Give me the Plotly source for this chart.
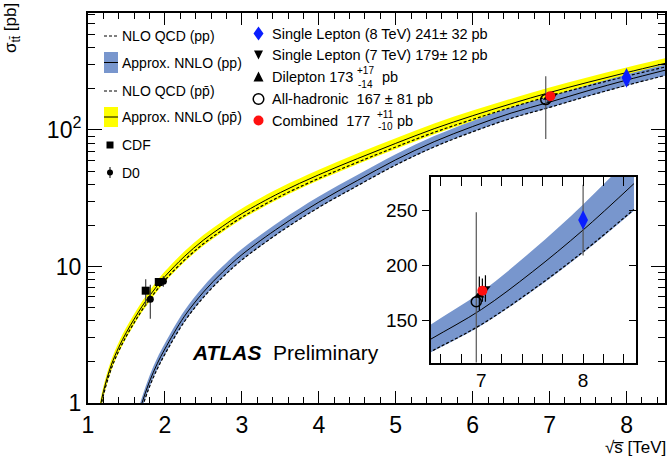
import plotly.graph_objects as go

# ---------------- theory curves ----------------
sqrt_s_ppbar = [1.1, 1.15, 1.2, 1.3, 1.4, 1.5, 1.6, 1.7, 1.8, 1.9, 2.0, 2.25, 2.5, 2.75,
                3.0, 3.5, 4.0, 4.5, 5.0, 5.5, 6.0, 6.5, 7.0, 7.5, 8.0, 8.5]
nnlo_ppbar = [0.555, 0.88, 1.21, 1.88, 2.56, 3.30, 4.12, 5.07, 6.10, 7.23, 8.45, 11.8, 15.6, 19.7,
              24.4, 34.8, 47.0, 61.6, 79.8, 102.2, 127.2, 155.6, 188.2, 223.6, 263.4, 307.6]
sqrt_s_pp = [1.5, 1.6, 1.7, 1.8, 1.9, 2.0, 2.25, 2.5, 2.75, 3.0, 3.5, 4.0, 4.5, 5.0, 5.5,
             6.0, 6.5, 7.0, 7.5, 8.0, 8.5]
nnlo_pp = [0.355, 0.627, 0.993, 1.44, 1.94, 2.49, 4.29, 6.49, 9.11, 12.2, 19.6, 29.6, 42.6, 60.5, 82.1,
           106, 133, 160, 194, 232, 274]
# relative band widths / NLO offsets
ppbar_band_up, ppbar_band_down, ppbar_nlo_ratio = 0.09, 0.09, 0.94
pp_band_up, pp_band_down, pp_nlo_ratio = 0.10, 0.09, 0.915

# ---------------- Tevatron data ----------------
cdf_x = [1.75, 1.92]
cdf_y = [6.65, 7.7]
cdf_err_plus = [1.4, 0.5]
cdf_err_minus = [1.5, 0.5]
d0_x = [1.81, 1.98]
d0_y = [5.75, 7.8]
d0_err = [1.6, 0.7]

# ---------------- ATLAS measurements ----------------
atlas_names = ["All-hadronic", "Dilepton", "Single Lepton (7 TeV)", "Combined", "Single Lepton (8 TeV)"]
atlas_x = [6.95, 6.98, 7.04, 7.01, 8.0]
atlas_y = [167, 173, 179, 177, 241]
atlas_err_plus = [81, 17, 12, 11, 32]
atlas_err_minus = [81, 14, 12, 10, 32]

x_ticks = [1, 2, 3, 4, 5, 6, 7, 8]
y_ticks = [1, 10, 100]
y_ticktext = ["1", "10", "10<sup>2</sup>"]
inset_x_ticks = [7, 8]
inset_y_ticks = [150, 200, 250]

YELLOW = "#ffff00"
BLUE = "#7896cd"
FONT = "Liberation Sans, Arial, Helvetica, sans-serif"

fig = go.Figure()

def add_theory(xa, ya, xs, central, up, down, nlo_ratio, color):
    lower = [v * (1 - down) for v in central]
    upper = [v * (1 + up) for v in central]
    nlo = [v * nlo_ratio for v in central]
    fig.add_trace(go.Scatter(x=xs, y=lower, mode="lines", line=dict(width=0, shape="spline", color=color),
                             xaxis=xa, yaxis=ya, showlegend=False, hoverinfo="skip"))
    fig.add_trace(go.Scatter(x=xs, y=upper, mode="lines", line=dict(width=0, shape="spline", color=color),
                             fill="tonexty", fillcolor=color, xaxis=xa, yaxis=ya, showlegend=False,
                             hoverinfo="skip"))
    return nlo

def add_lines(xa, ya, xs, central, nlo):
    fig.add_trace(go.Scatter(x=xs, y=central, mode="lines", line=dict(width=1, color="black", shape="spline"),
                             xaxis=xa, yaxis=ya, showlegend=False))
    fig.add_trace(go.Scatter(x=xs, y=nlo, mode="lines",
                             line=dict(width=1.2, color="black", dash="3px,2px", shape="spline"),
                             xaxis=xa, yaxis=ya, showlegend=False))

# main panel bands
nlo_ppbar = add_theory("x", "y", sqrt_s_ppbar, nnlo_ppbar, ppbar_band_up, ppbar_band_down, ppbar_nlo_ratio, YELLOW)
nlo_pp = add_theory("x", "y", sqrt_s_pp, nnlo_pp, pp_band_up, pp_band_down, pp_nlo_ratio, BLUE)
add_lines("x", "y", sqrt_s_ppbar, nnlo_ppbar, nlo_ppbar)
add_lines("x", "y", sqrt_s_pp, nnlo_pp, nlo_pp)

# inset band (pp only)
nlo_pp_in = add_theory("x2", "y2", sqrt_s_pp, nnlo_pp, pp_band_up, pp_band_down, pp_nlo_ratio, BLUE)
add_lines("x2", "y2", sqrt_s_pp, nnlo_pp, nlo_pp_in)

# Tevatron points
fig.add_trace(go.Scatter(x=d0_x, y=d0_y, mode="markers", marker=dict(symbol="circle", size=7, color="black"),
                         error_y=dict(type="data", array=d0_err, width=0, thickness=1.2, color="#444"),
                         xaxis="x", yaxis="y", name="D0", showlegend=False))
fig.add_trace(go.Scatter(x=cdf_x, y=cdf_y, mode="markers", marker=dict(symbol="square", size=8, color="black"),
                         error_y=dict(type="data", symmetric=False, array=cdf_err_plus, arrayminus=cdf_err_minus,
                                      width=0, thickness=1.2, color="#444"),
                         xaxis="x", yaxis="y", name="CDF", showlegend=False))

atlas_style = [
    dict(symbol="circle-open", size=10, color="black", line=dict(width=1.5, color="black")),
    dict(symbol="triangle-up", size=9, color="black"),
    dict(symbol="triangle-down", size=9, color="black"),
    dict(symbol="circle", size=10, color="#ff1010"),
    dict(symbol="diamond-tall", size=14, color="#0a1eff"),
]
err_colors = ["#555", "black", "black", "black", "#555"]
for xa, ya in (("x", "y"), ("x2", "y2")):
    for i in range(len(atlas_names)):
        fig.add_trace(go.Scatter(
            x=[atlas_x[i]], y=[atlas_y[i]], mode="markers", marker=atlas_style[i],
            error_y=dict(type="data", symmetric=False, array=[atlas_err_plus[i]],
                         arrayminus=[atlas_err_minus[i]], width=0, thickness=1.2, color=err_colors[i]),
            xaxis=xa, yaxis=ya, name=atlas_names[i], showlegend=False))

# ---------------- layout ----------------
L, R, T, B = 88, 665, 13, 403  # plot area in pixels
W, H = R - L, B - T

def P(px, py):
    return (px - L) / W, (B - py) / H

shapes, annotations = [], []

def rect(x0, y0, x1, y1, fill, line_color=None, lw=0):
    a, b = P(x0, y0)
    c, d = P(x1, y1)
    shapes.append(dict(type="rect", xref="paper", yref="paper", x0=a, y0=d, x1=c, y1=b,
                       fillcolor=fill, line=dict(width=lw, color=line_color or fill)))

def hline(x0, x1, y, dash="solid", width=1):
    a, b = P(x0, y)
    c, _ = P(x1, y)
    shapes.append(dict(type="line", xref="paper", yref="paper", x0=a, y0=b, x1=c, y1=b,
                       line=dict(color="black", width=width, dash=dash)))

def vline(x, y0, y1, width=1):
    a, b = P(x, y0)
    _, d = P(x, y1)
    shapes.append(dict(type="line", xref="paper", yref="paper", x0=a, y0=b, x1=a, y1=d,
                       line=dict(color="black", width=width)))

def poly(points, fill, line_color=None, lw=0):
    pts = [P(x, y) for x, y in points]
    path = "M " + " L ".join(f"{x:.5f},{y:.5f}" for x, y in pts) + " Z"
    shapes.append(dict(type="path", xref="paper", yref="paper", path=path, fillcolor=fill,
                       line=dict(width=lw, color=line_color or fill)))

def circle(cx, cy, r, fill, line_color="black", lw=0):
    a, b = P(cx - r, cy + r)
    c, d = P(cx + r, cy - r)
    shapes.append(dict(type="circle", xref="paper", yref="paper", x0=a, y0=b, x1=c, y1=d,
                       fillcolor=fill, line=dict(width=lw, color=line_color)))

def text(px, py, s, size=14.5, xanchor="left", yanchor="middle", **kw):
    x, y = P(px, py)
    annotations.append(dict(xref="paper", yref="paper", x=x, y=y, text=s, showarrow=False,
                            xanchor=xanchor, yanchor=yanchor, font=dict(size=size, color="black", family=FONT),
                            **kw))

# left legend
hline(104, 118, 36, dash="3px,2px")
text(120, 36, "NLO QCD (pp)", size=14)
rect(104, 52, 118, 73, BLUE)
hline(104, 118, 62.5)
text(120, 62.5, "Approx. NNLO (pp)", size=14)
hline(104, 118, 91, dash="3px,2px")
text(120, 91, "NLO QCD (pp\u0304)", size=14)
rect(104, 107, 118, 127, YELLOW)
hline(104, 118, 117)
text(120, 117, "Approx. NNLO (pp\u0304)", size=14)
rect(106.5, 141.5, 113.5, 148.5, "black")
text(120, 145, "CDF", size=14)
vline(110, 167, 178)
circle(110, 172.5, 3, "black")
text(120, 173, "D0", size=14)

# right legend
poly([(258.5, 26.5), (263.5, 33.5), (258.5, 40.5), (253.5, 33.5)], "#0a1eff")
text(270, 33.5, "Single Lepton (8 TeV) 241\u00b1 32 pb")
poly([(254, 50.5), (263, 50.5), (258.5, 59.5)], "black")
text(270, 55.5, "Single Lepton (7 TeV) 179\u00b1 12 pb")
poly([(253.5, 81.5), (263.5, 81.5), (258.5, 71.5)], "black")
text(270, 77, "Dilepton 173")
text(355, 70, "+17", size=10)
text(356, 84, "-14", size=10)
text(380, 77, "pb")
circle(258.5, 99, 5.3, "rgba(0,0,0,0)", "black", 1.5)
text(270, 99, "All-hadronic\u00a0 167 \u00b1 81 pb")
circle(258.5, 120.5, 5, "#ff1010")
text(270, 120.5, "Combined\u00a0 177")
text(375, 115, "+11", size=10)
text(376, 127, "-10", size=10)
text(395, 120.5, "pb")

# ATLAS label
text(190, 352, "<b><i>ATLAS</i></b>\u00a0 Preliminary", size=21)

# axis titles
text(12, 1, "σ<sub>tt\u0304</sub> [pb]", size=17, xanchor="center", yanchor="top", textangle=-90)
text(668, 459, "√s\u0305 [TeV]", size=17, xanchor="right", yanchor="bottom")

axis_common = dict(showline=True, linewidth=2, linecolor="black", mirror="allticks", showgrid=False,
                   zeroline=False, ticks="inside", tickcolor="black", tickwidth=1.3, automargin=False)

ix0, iy1 = P(430.5, 177)
ix1, iy0 = P(636, 362.5)

fig.update_layout(
    width=669, height=459,
    margin=dict(l=L, r=669 - R, t=T, b=459 - B, autoexpand=False),
    paper_bgcolor="white", plot_bgcolor="white",
    font=dict(family=FONT, color="black"),
    showlegend=False,
    xaxis=dict(domain=[0, 1], range=[1, 8.5], tickvals=x_ticks, ticklen=12,
               tickfont=dict(size=23), minor=dict(dtick=0.2, tick0=1, ticks="inside", ticklen=6,
                                                  tickcolor="black", tickwidth=1.2),
               anchor="y", **axis_common),
    yaxis=dict(domain=[0, 1], type="log", range=[0, 2.857], tickvals=y_ticks, ticktext=y_ticktext,
               ticklen=14, tickfont=dict(size=23),
               minor=dict(tickvals=[2, 3, 4, 5, 6, 7, 8, 9, 20, 30, 40, 50, 60, 70, 80, 90,
                                    200, 300, 400, 500, 600, 700],
                          ticks="inside", ticklen=7, tickcolor="black", tickwidth=1.2),
               anchor="x", **axis_common),
    xaxis2=dict(domain=[ix0, ix1], range=[6.5, 8.52], tickvals=inset_x_ticks, ticklen=9,
                tickfont=dict(size=19),
                minor=dict(dtick=0.2, tick0=7, ticks="inside", ticklen=5, tickcolor="black", tickwidth=1),
                anchor="y2", **axis_common),
    yaxis2=dict(domain=[iy0, iy1], range=[112, 280], tickvals=inset_y_ticks, ticklen=7,
                tickfont=dict(size=19), anchor="x2", automargin=False,
                showline=True, linewidth=2, linecolor="black", mirror=True, showgrid=False,
                zeroline=False, ticks="outside", tickcolor="black", tickwidth=1.3),
    yaxis3=dict(overlaying="y2", side="right", anchor="x2", range=[112, 280], tickvals=inset_y_ticks,
                ticks="inside", ticklen=7, tickcolor="black", tickwidth=1.3, showticklabels=False,
                showgrid=False, zeroline=False, showline=False, automargin=False),
    shapes=shapes,
    annotations=annotations,
)
# empty trace so the right-hand inset axis is drawn
fig.add_trace(go.Scatter(x=[None], y=[None], xaxis="x2", yaxis="y3", showlegend=False))

fig.write_html("out.html", config={"displayModeBar": False},
               post_script="document.body.style.margin='0';document.body.style.overflow='hidden';")
